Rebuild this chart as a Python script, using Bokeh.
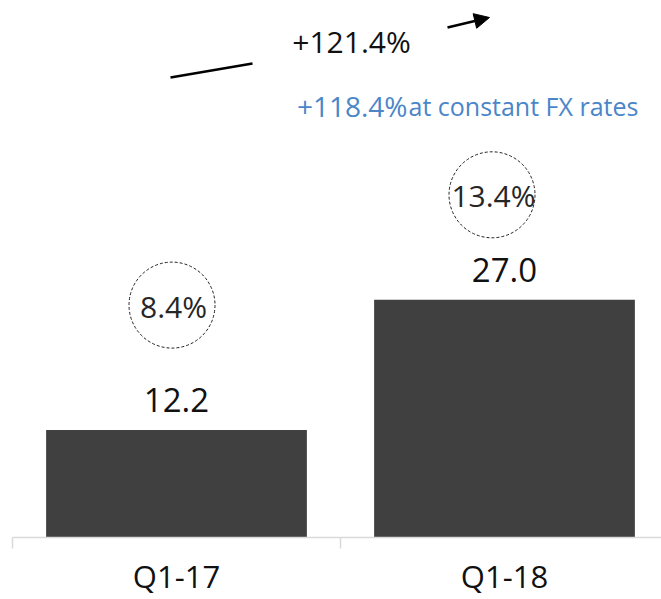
from bokeh.plotting import figure
from bokeh.models import Range1d, FixedTicker, ColumnDataSource, Arrow, NormalHead, Label
from bokeh.core.properties import value
from bokeh.embed import file_html
from bokeh.resources import INLINE

# ---- data ----
categories = ["Q1-17", "Q1-18"]
revenue = [12.2, 27.0]
margin = ["8.4%", "13.4%"]
growth_label = "+121.4%"
growth_fx_label = "+118.4%"
growth_fx_note = "at constant FX rates"

# ---- layout constants ----
W, H = 661, 599
LEFT = 12
BASE = 537
CAT_PX = 328
Y_END = 61.0
Y_PX = BASE / Y_END
FONT = "Open Sans"
BAR_COLOR = "#404040"
BLUE = "#4A86C8"

def dx(px):
    return (px - LEFT) / CAT_PX

def dy(py):
    return (BASE - py) / Y_PX

xs = [i + 0.5 for i in range(len(categories))]

p = figure(width=W, height=H, output_backend="svg", toolbar_location=None,
           x_range=Range1d(0, (W - LEFT) / CAT_PX), y_range=Range1d(0, Y_END),
           min_border_left=LEFT, min_border_right=0, min_border_top=0,
           min_border_bottom=H - BASE)
p.outline_line_color = None
p.grid.visible = False
p.yaxis.visible = False
p.background_fill_color = "white"
p.border_fill_color = "white"

src = ColumnDataSource(dict(x=xs, top=revenue, lab=[f"{v:.1f}" for v in revenue], cat=categories))
p.vbar(x="x", top="top", width=0.795, bottom=0, source=src, fill_color=BAR_COLOR, line_color=None)

# value labels
p.text(x="x", y="top", text="lab", source=src, text_align="center", text_baseline="bottom",
       y_offset=-18, text_font=value(FONT), text_font_size="33px", text_color="#111111")

# margin circles
circ_dx_px = [-4.5, -12.5]
circ_up_px = [125, 105]
cx = [x + d / CAT_PX for x, d in zip(xs, circ_dx_px)]
cy = [v + u / Y_PX for v, u in zip(revenue, circ_up_px)]
csrc = ColumnDataSource(dict(x=cx, y=cy, t=margin))
p.scatter(x="x", y="y", source=csrc, marker="circle", size=86, fill_color=None,
          line_color="#222222", line_width=1, line_dash="3 2")
p.text(x="x", y="y", text="t", source=csrc, text_align="center", text_baseline="middle",
       x_offset=1.5, y_offset=1, text_font=value(FONT), text_font_size="30px", text_color="#262626")

# growth arrow
p.segment(x0=[dx(170)], y0=[dy(77)], x1=[dx(252)], y1=[dy(63)], line_color="black", line_width=2.5)
p.add_layout(Arrow(end=NormalHead(size=15, fill_color="black", line_color="black"),
                   x_start=dx(447), y_start=dy(27), x_end=dx(489), y_end=dy(17),
                   line_color="black", line_width=2.5))

p.add_layout(Label(x=dx(351), y=dy(41), text=growth_label, text_align="center",
                   text_baseline="alphabetic", text_font=FONT, text_font_size="30px",
                   text_color="#111111"))
p.add_layout(Label(x=dx(407), y=dy(105), text=growth_fx_label, text_align="right",
                   text_baseline="alphabetic", text_font=FONT, text_font_size="28px",
                   text_color=BLUE))
p.add_layout(Label(x=dx(408), y=dy(105), text=growth_fx_note, text_align="left",
                   text_baseline="alphabetic", text_font=FONT, text_font_size="25px",
                   text_color=BLUE))

# x axis
ax = p.xaxis[0]
ax.ticker = FixedTicker(ticks=xs, minor_ticks=[float(i) for i in range(len(categories) + 1)])
ax.major_label_overrides = {x: c for x, c in zip(xs, categories)}
ax.axis_line_color = "#d9d9d9"
ax.axis_line_width = 1.5
ax.major_tick_line_color = None
ax.major_tick_out = 0
ax.major_tick_in = 0
ax.minor_tick_line_color = "#d9d9d9"
ax.minor_tick_line_width = 1.5
ax.minor_tick_out = 11
ax.minor_tick_in = 0
ax.major_label_standoff = 6
ax.major_label_text_font = FONT
ax.major_label_text_font_size = "31px"
ax.major_label_text_color = "#111111"

open("out.html", "w").write(file_html(p, INLINE))
